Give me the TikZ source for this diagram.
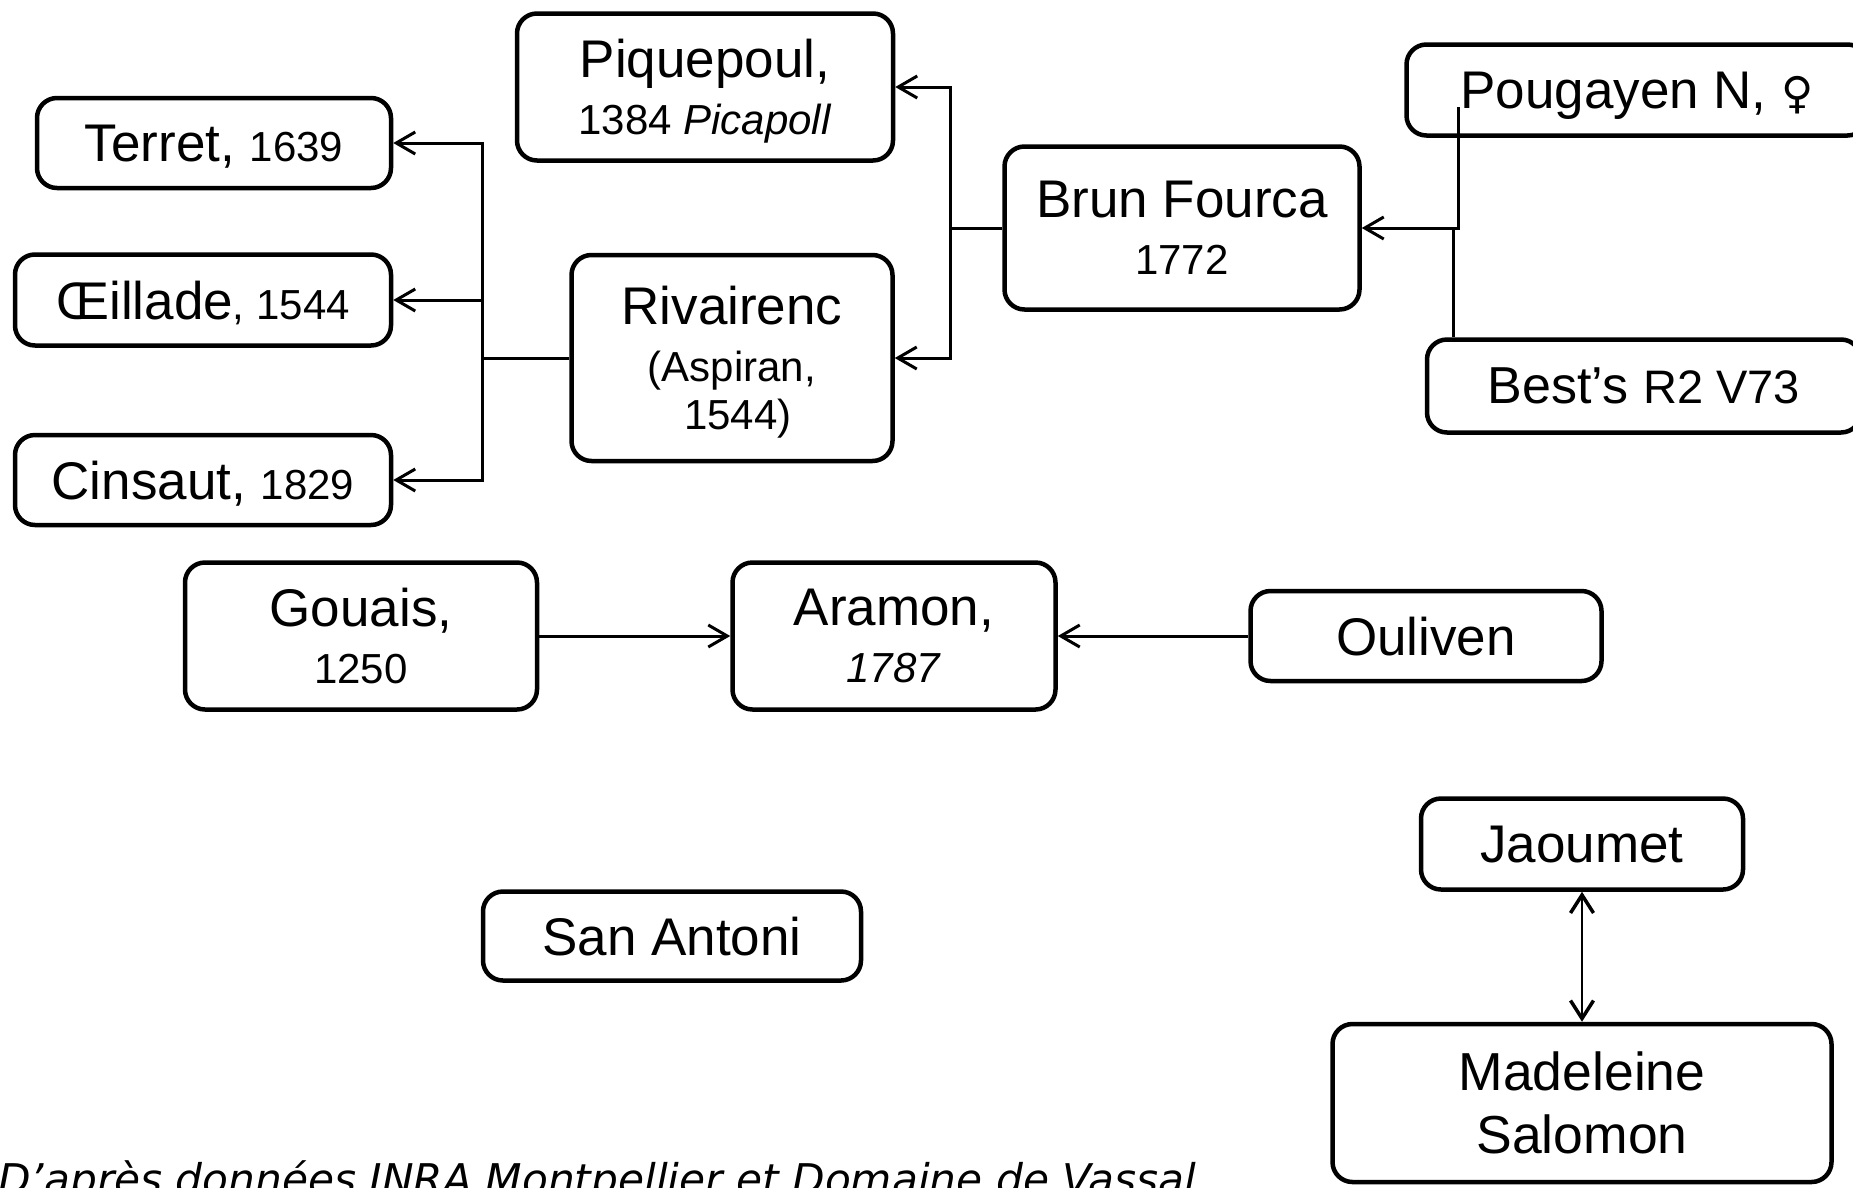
\documentclass[tikz,border=0pt]{standalone}
\usepackage{fontspec}
\setmainfont{Liberation Sans}
\newfontfamily\notefont{DejaVu Sans}
\newfontfamily\symbfont{DejaVu Sans}
\usetikzlibrary{arrows.meta}

\newcommand{\grand}{\fontsize{53}{57}\selectfont}
\newcommand{\moyen}{\fontsize{42}{57}\selectfont}

\begin{document}
\begin{tikzpicture}[x=1pt, y=-1pt,
            cepage/.style={draw, line width=4.5pt, rounded corners=20pt, align=center, inner sep=0pt, text depth=0pt, font=\grand},
            lien/.style={line width=3pt},
            fleche/.style={lien, -{Straight Barb[length=19pt,width=22pt]}},
            double fleche/.style={line width=2pt, {Straight Barb[length=18pt,width=23pt,line width=3.5pt]}-{Straight Barb[length=18pt,width=23pt,line width=3.5pt]}}]
            \useasboundingbox (0,0) rectangle (1853,1187);
            \node[cepage, minimum width=354pt, minimum height=90pt] (terret) at (214,143) {Terret, {\moyen 1639}};
            \node[cepage, minimum width=376pt, minimum height=91pt] (oeillade) at (203,300) {Œillade{\moyen , 1544}};
            \node[cepage, minimum width=376pt, minimum height=90pt] (cinsaut) at (203,480) {Cinsaut, {\moyen 1829}};
            \node[cepage, minimum width=376pt, minimum height=147pt] (piquepoul) at (705,87) {Piquepoul,\\ {\moyen 1384 \textit{Picapoll}}};
            \node[cepage, minimum width=321pt, minimum height=206pt] (rivairenc) at (732,358) {Rivairenc\\ {\moyen (Aspiran,}\\[-9pt] {\moyen \ 1544)}};
            \node[cepage, minimum width=355pt, minimum height=163pt] (brun) at (1182,228) {Brun Fourca\\ {\moyen 1772}};
            \node[cepage, minimum width=461pt, minimum height=91pt] (pougayen) at (1637,90) {Pougayen N, {\symbfont\fontsize{44}{57}\selectfont ♀}};
            \node[cepage, minimum width=434pt, minimum height=93pt] (best) at (1644,386) {{\fontsize{52}{57}\selectfont Best’s} {\fontsize{47}{57}\selectfont R2 V73}};
            \node[cepage, minimum width=352pt, minimum height=147pt] (gouais) at (361,636) {Gouais,\\ {\moyen 1250}};
            \node[cepage, minimum width=323pt, minimum height=147pt] (aramon) at (894,636) {Aramon,\\ {\moyen \textit{1787}}};
            \node[cepage, minimum width=351pt, minimum height=90pt] (ouliven) at (1426,636) {Ouliven};
            \node[cepage, minimum width=378pt, minimum height=89pt] (sanantoni) at (672,936) {San Antoni};
            \node[cepage, minimum width=322pt, minimum height=91pt] (jaoumet) at (1582,844) {Jaoumet};
            \node[cepage, minimum width=499pt, minimum height=158pt, font=\fontsize{53.5}{63}\selectfont] (madeleine) at (1582,1103) {Madeleine\\ Salomon};
            \node[anchor=base west, inner sep=0pt, font=\notefont\itshape\fontsize{42.3}{48}\selectfont] (source) at (-2,1194) {D’après données INRA Montpellier et Domaine de Vassal};
            \coordinate (brancheG) at (482,358);
            \coordinate (brancheM) at (950,228);
            \coordinate (brancheH) at (1458,107);
            \coordinate (brancheB) at (1453,228);
            \draw[lien] (rivairenc.west) -- (brancheG);
            \draw[fleche] (brancheG) |- (terret.east);
            \draw[fleche] (brancheG) |- (oeillade.east);
            \draw[fleche] (brancheG) |- (cinsaut.east);
            \draw[lien] (brun.west) -- (brancheM);
            \draw[fleche] (brancheM) |- (piquepoul.east);
            \draw[fleche] (brancheM) |- (rivairenc.east);
            \draw[fleche] (brancheH) |- (brun.east);
            \draw[lien] (brancheB) -- (brancheB |- best.north);
            \draw[fleche] (gouais) -- (aramon);
            \draw[fleche] (ouliven) -- (aramon);
            \draw[double fleche] (jaoumet) -- (madeleine);
        \end{tikzpicture}
\end{document}
